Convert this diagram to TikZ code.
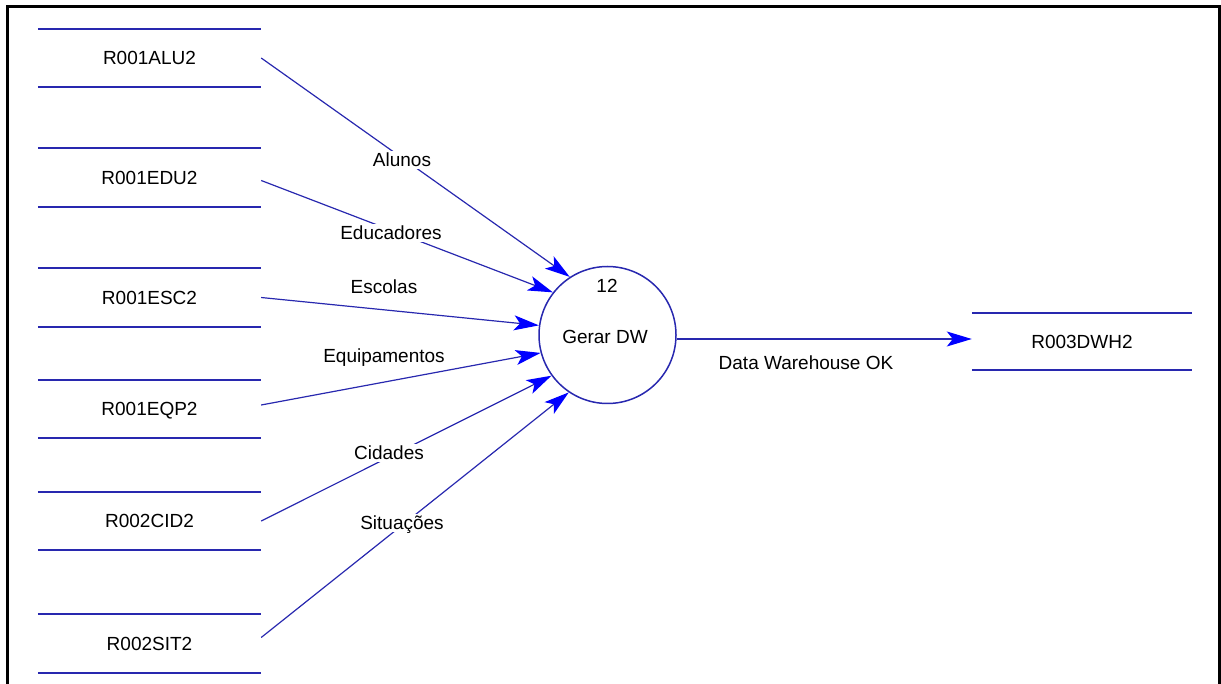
\documentclass[tikz,border=0pt]{standalone}
\usepackage{fontspec}
\setmainfont{Liberation Sans}
\usetikzlibrary{arrows.meta}
\definecolor{lineblue}{RGB}{40,40,175}
\definecolor{headblue}{RGB}{0,0,255}
\tikzset{
  storebox/.style={minimum width=223pt, minimum height=58pt, inner sep=0pt,
    text height=13.5pt, text depth=0pt},
  storeline/.style={draw=lineblue, line width=2pt},
  procbox/.style={circle, draw=lineblue, line width=1.5pt, minimum size=137pt, inner sep=0pt},
  flow/.style={draw=lineblue, line width=1.2pt,
    -{Stealth[length=25pt, width=15pt, inset=6pt, color=headblue]}},
  flowlabel/.style={fill=white, inner sep=2.5pt, text height=13.5pt, text depth=0pt},
  txt/.style={inner sep=0pt, text height=13.5pt, text depth=0pt}
}
\begin{document}
\begin{tikzpicture}[x=1pt, y=-1pt, font=\fontsize{19}{22}\selectfont]
\useasboundingbox (0,0) rectangle (1221,684);
% outer frame (open at the bottom)
\draw[line width=3pt, black] (7,684) -- (7,7) -- (1219.5,7) -- (1219.5,684);

% data stores
\node[storebox] (alu) at (149.5,58) {R001ALU2};
\node[storebox] (edu) at (149.5,177.5) {R001EDU2};
\node[storebox] (esc) at (149.5,297.5) {R001ESC2};
\node[storebox] (eqp) at (149.5,409) {R001EQP2};
\node[storebox] (cid) at (149.5,521) {R002CID2};
\node[storebox] (sit) at (149.5,643.5) {R002SIT2};
\node[storebox, minimum width=220pt, minimum height=57pt] (dwh) at (1082,341.5) {R003DWH2};
\foreach \s in {alu,edu,esc,eqp,cid,sit,dwh}
  \draw[storeline] (\s.north west) -- (\s.north east) (\s.south west) -- (\s.south east);

% process
\node[procbox] (proc) at (607.5,335) {};
\node[txt] (num) at (607,286) {12};
\node[txt] (name) at (605,337) {Gerar DW};

% flows into the process
\draw[flow] (alu.east) -- (proc.123);
\draw[flow] ([yshift=-3pt]edu.east) -- (proc.142);
\draw[flow] (esc.east) -- (proc.172);
\draw[flow] ([yshift=4pt]eqp.east) -- (proc.195);
\draw[flow] (cid.east) -- (proc.216);
\draw[flow] ([yshift=6pt]sit.east) -- (proc.236);
% flow out of the process
\coordinate (outend) at (dwh.west |- 0,339);
\draw[flow] (proc.east |- 0,339) -- (outend);

% flow labels
\node[flowlabel] (lalu) at (402,160) {Alunos};
\node[flowlabel] (ledu) at (391,233) {Educadores};
\node[flowlabel] (lesc) at (384,287) {Escolas};
\node[flowlabel] (leqp) at (384,356) {Equipamentos};
\node[flowlabel] (lcid) at (389,453) {Cidades};
\node[flowlabel] (lsit) at (402,523) {Situações};
\node[flowlabel] (ldwh) at (806,363) {Data Warehouse OK};
\end{tikzpicture}
\end{document}
